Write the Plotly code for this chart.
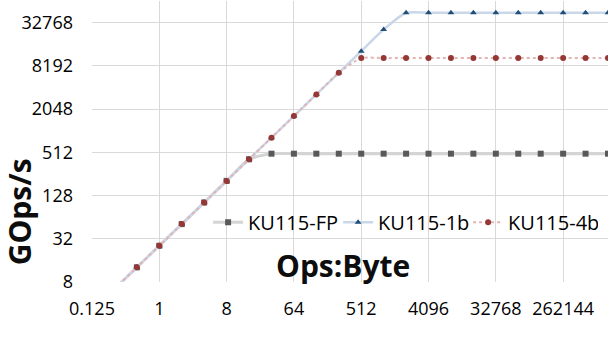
import math
import plotly.graph_objects as go

# Ops:Byte (arithmetic intensity), one point per doubling
intensity = [0.25, 0.5, 1, 2, 4, 8, 16, 32, 64, 128, 256, 512, 1024, 2048,
             4096, 8192, 16384, 32768, 65536, 131072, 262144, 524288, 1048576]

# GOps/s
ku115_fp = [6.4, 12.8, 25.6, 51.2, 102.4, 204.8, 409.6, 490, 490, 490, 490, 490,
            490, 490, 490, 490, 490, 490, 490, 490, 490, 490, 490]
ku115_1b = [6.4, 12.8, 25.6, 51.2, 102.4, 204.8, 409.6, 819.2, 1638.4, 3276.8, 6553.6,
            13107.2, 26214.4, 45000, 45000, 45000, 45000, 45000, 45000, 45000, 45000,
            45000, 45000]
ku115_4b = [6.4, 12.8, 25.6, 51.2, 102.4, 204.8, 409.6, 819.2, 1638.4, 3276.8, 6553.6,
            10500, 10500, 10500, 10500, 10500, 10500, 10500, 10500, 10500, 10500,
            10500, 10500]

x_ticks = [0.125, 1, 8, 64, 512, 4096, 32768, 262144]
x_tick_text = ["0.125", "1", "8", "64", "512", "4096", "32768", "262144"]
y_ticks = [8, 32, 128, 512, 2048, 8192, 32768]
y_tick_text = ["8", "32", "128", "512", "2048", "8192", "32768"]

FONT = "Open Sans"

fig = go.Figure()

fig.add_trace(go.Scatter(
    x=intensity, y=ku115_fp, name="KU115-FP", mode="lines+markers",
    line=dict(color="#d4d4d4", width=3, shape="spline", smoothing=0.6),
    marker=dict(symbol="square", size=6, color="#595959"),
))
fig.add_trace(go.Scatter(
    x=intensity, y=ku115_1b, name="KU115-1b", mode="lines+markers",
    line=dict(color="#c9d7e9", width=2.5, shape="spline", smoothing=0.6),
    marker=dict(symbol="triangle-up", size=6, color="#1f4e79"),
))
fig.add_trace(go.Scatter(
    x=intensity, y=ku115_4b, name="KU115-4b", mode="lines+markers",
    line=dict(color="#e2b4b3", width=2, dash="dot", shape="spline", smoothing=0.6),
    marker=dict(symbol="circle", size=6, color="#953735"),
))

grid = "#d9d9d9"
fig.update_xaxes(
    type="log", range=[math.log10(0.125), math.log10(1048576)],
    tickvals=x_ticks, ticktext=x_tick_text, showgrid=True, gridcolor=grid,
    gridwidth=1, zeroline=False, showline=False, ticks="", automargin=False,
    tickfont=dict(family=FONT, size=18, color="#000000"), ticklabelstandoff=14,
)
fig.update_yaxes(
    type="log", range=[math.log10(8), math.log10(65536)],
    tickvals=y_ticks, ticktext=y_tick_text, showgrid=True, gridcolor=grid,
    gridwidth=1, zeroline=False, showline=False, ticks="", automargin=False,
    tickfont=dict(family=FONT, size=18, color="#000000"), ticklabelstandoff=18,
)

fig.add_annotation(
    text="<b>Ops:Byte</b>", xref="paper", yref="paper", x=0.486, y=0.06,
    xanchor="center", yanchor="middle", showarrow=False,
    font=dict(family=FONT, size=30, color="#0d0d0d"),
)
fig.add_annotation(
    text="<b>GOps/s</b>", xref="paper", yref="paper", x=-0.1405, y=0.25,
    xanchor="center", yanchor="middle", showarrow=False, textangle=-90,
    font=dict(family=FONT, size=30, color="#0d0d0d"),
)

fig.update_layout(
    width=610, height=348,
    margin=dict(l=92, r=2, t=1, b=66, autoexpand=False),
    plot_bgcolor="white", paper_bgcolor="white",
    font=dict(family=FONT, color="#000000"),
    legend=dict(
        orientation="h", x=0.225, y=0.213, xanchor="left", yanchor="middle",
        bgcolor="rgba(0,0,0,0)", font=dict(family=FONT, size=20, color="#000000"),
        entrywidth=85, entrywidthmode="pixels", tracegroupgap=0,
    ),
)

# page body has a default 8px margin; drop it so the figure sits at the corner
fig.write_html("out.html", config={"displayModeBar": False},
               post_script="document.body.style.margin='0';")
